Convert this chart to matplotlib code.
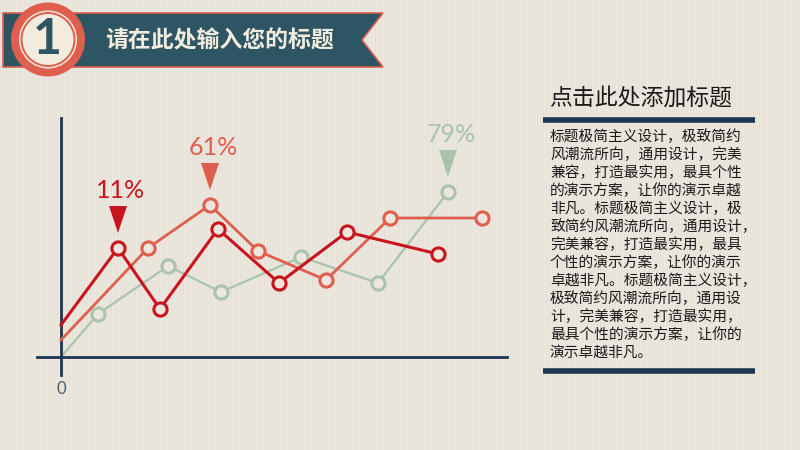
import matplotlib.pyplot as plt
import numpy as np
from matplotlib.patches import Polygon, Circle

plt.rcParams['font.family'] = ['Noto Sans CJK SC', 'DejaVu Sans']

# series: x, y in chart units (0 = axis origin)
red_x = [0, 5.7, 9.9, 15.7, 21.8, 28.6, 37.7]
red_y = [3.2, 10.9, 4.8, 12.8, 7.4, 12.5, 10.3]
coral_x = [0, 8.7, 14.9, 19.7, 26.5, 32.9, 42.1]
coral_y = [1.7, 10.9, 15.2, 10.6, 7.7, 13.9, 13.9]
green_x = [0, 3.7, 10.7, 16.0, 24.0, 31.7, 38.7]
green_y = [0, 4.3, 9.1, 6.5, 10.0, 7.4, 16.5]
peak_labels = ['11%', '61%', '79%']
peak_index = [1, 2, 6]

header_num = '1'
header_title = '请在此处输入您的标题'
side_title = '点击此处添加标题'
body_lines = [
    '标题极简主义设计，极致简约',
    '风潮流所向，通用设计，完美',
    '兼容，打造最实用，最具个性',
    '的演示方案，让你的演示卓越',
    '非凡。标题极简主义设计，极',
    '致简约风潮流所向，通用设计，',
    '完美兼容，打造最实用，最具',
    '个性的演示方案，让你的演示',
    '卓越非凡。标题极简主义设计，',
    '极致简约风潮流所向，通用设',
    '计，完美兼容，打造最实用，',
    '最具个性的演示方案，让你的',
    '演示卓越非凡。',
]

BG = '#ECE7DE'
RED = '#C8141C'
CORAL = '#DE5F4E'
GREEN = '#A9C3AC'
NAVY = '#1E3553'
TEAL = '#2D5563'
CREAM = '#F1ECDD'

fig = plt.figure(figsize=(8, 4.5), dpi=100)
fig.patch.set_facecolor(BG)

# background layer in pixel coordinates
bg = fig.add_axes([0, 0, 1, 1], zorder=0)
bg.set_xlim(0, 800)
bg.set_ylim(450, 0)
bg.axis('off')

stripes = np.zeros((450, 800, 3))
stripes[:] = np.array([236, 231, 222]) / 255
stripes[:, ::3] = np.array([229, 224, 214]) / 255
bg.imshow(stripes, extent=(0, 800, 450, 0), aspect='auto', zorder=0)

# header banner
banner = Polygon([(3, 13), (383, 13), (362, 40), (383, 67), (3, 67)],
                 closed=True, facecolor=TEAL, edgecolor=CORAL, lw=1.2, zorder=2)
bg.add_patch(banner)
bg.add_patch(Circle((48, 39.5), 37, facecolor=CORAL, edgecolor='none', zorder=3))
bg.add_patch(Circle((48, 39.5), 29, facecolor=CREAM, edgecolor='none', zorder=3))
bg.add_patch(Circle((48, 39.5), 27.5, facecolor=CORAL, edgecolor='none', zorder=3))
bg.add_patch(Circle((48, 39.5), 25.5, facecolor=CREAM, edgecolor='none', zorder=3))
bg.text(47, 40, header_num, family=['Lato', 'DejaVu Sans'], fontsize=36,
        fontweight='bold', color=TEAL, ha='center', va='center', zorder=4)
bg.text(105, 41, header_title, fontsize=16.5, fontweight='bold', color=CREAM,
        ha='left', va='center', zorder=4)

# side text block
bg.text(549, 98, side_title, fontsize=16.5, color='#1A1A1A', ha='left', va='center')
bg.plot([543, 755], [119.5, 119.5], color=NAVY, lw=4, solid_capstyle='butt')
bg.plot([543, 755], [371, 371], color=NAVY, lw=4, solid_capstyle='butt')
for i, line in enumerate(body_lines):
    bg.text(550, 137 + i * 18, line, fontsize=10.6, color='#1A1A1A',
            ha='left', va='center')

# chart
ax = fig.add_axes([37 / 800, 1 - 385 / 450, 470 / 800, 267 / 450], zorder=1)
ax.set_facecolor('none')
ax.set_xlim(-2.4, 44.6)
ax.set_ylim(-2.8, 23.9)
for s in ['top', 'right']:
    ax.spines[s].set_visible(False)
ax.spines['left'].set_position(('data', 0))
ax.spines['bottom'].set_position(('data', 0))
ax.spines['left'].set_bounds(-1.8, 23.9)
for s in ['left', 'bottom']:
    ax.spines[s].set_color(NAVY)
    ax.spines[s].set_linewidth(2)
ax.set_xticks([])
ax.set_yticks([])
ax.text(0, -3.15, '0', family=['Lato', 'DejaVu Sans'], fontsize=12,
        color='#4A5F73', ha='center', va='center', clip_on=False)

series = [
    (green_x, green_y, GREEN, 1.6),
    (coral_x, coral_y, CORAL, 2.0),
    (red_x, red_y, RED, 2.2),
]
for k, (xs, ys, col, lw) in enumerate(series):
    ax.plot(xs, ys, color=col, lw=lw, zorder=2 + k, clip_on=False)
    ax.plot(xs[1:], ys[1:], ls='none', marker='o', ms=9.5, mfc=BG, mec=col,
            mew=2.2, zorder=2 + k, clip_on=False)

for (xs, ys, col, lw), lab, idx in zip([series[2], series[1], series[0]],
                                       peak_labels, peak_index):
    px, py = xs[idx], ys[idx]
    tri = Polygon([(px - 0.9, py + 4.2), (px + 0.9, py + 4.2), (px, py + 1.5)],
                  closed=True, facecolor=col, edgecolor='none', zorder=6)
    ax.add_patch(tri)
    ax.text(px + 0.3, py + 5.7, lab, family=['Lato', 'DejaVu Sans'],
            fontsize=18, color=col, ha='center', va='center', zorder=6)

fig.savefig('out.png', dpi=100, facecolor=BG)
